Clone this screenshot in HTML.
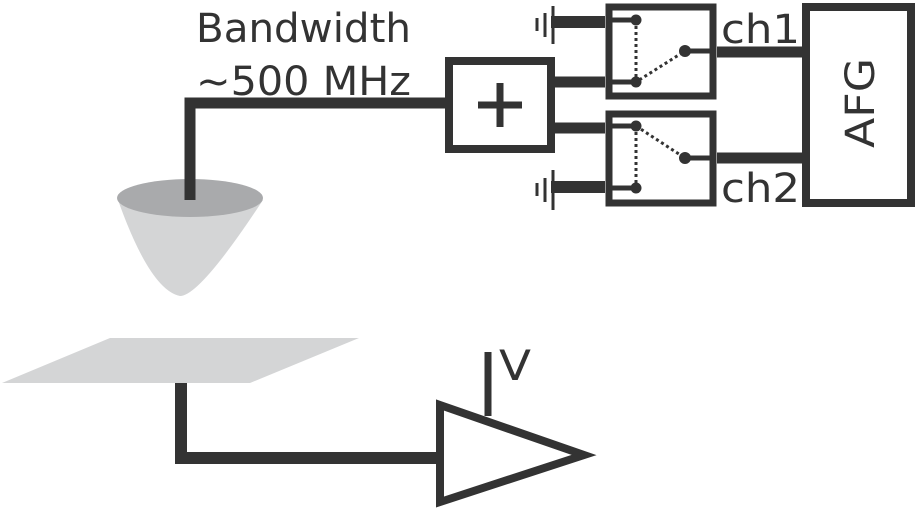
<!DOCTYPE html>
<html><head><style>body{margin:0;background:#fff}svg{display:block}</style></head><body>
<svg width="915" height="510" viewBox="0 0 915 510" xmlns="http://www.w3.org/2000/svg" font-family="DejaVu Sans, Liberation Sans, sans-serif" fill="none" stroke="#333">
<!-- cone -->
<path d="M118,200 Q150,290 180,296 Q200,296 263,200 Z" fill="#d4d5d6" stroke="none"/>
<ellipse cx="190" cy="198" rx="73" ry="19" fill="#a9aaac" stroke="none"/>
<path d="M190,200 V103 H445" stroke-width="11"/>
<!-- plus box -->
<rect x="449" y="61" width="102" height="88" stroke-width="8" fill="#fff"/>
<path d="M500,83 V127 M478,105 H522" stroke-width="7"/>
<path d="M555,82 H605 M555,128 H605" stroke-width="11"/>
<!-- switch boxes -->
<rect x="609" y="7" width="104" height="89" stroke-width="7"/>
<rect x="609" y="114" width="104" height="89" stroke-width="7"/>
<!-- grounds -->
<path d="M551,22 H605 M551,187 H605" stroke-width="12"/>
<path d="M553,6 V44 M545,13 V37 M537,18 V31 M553,170 V210 M545,178 V202 M537,183 V196" stroke-width="3"/>
<!-- switch internals -->
<path d="M612,20 H636 M612,82 H636 M685,51 H713 M612,126 H636 M612,188 H636 M685,158 H713" stroke-width="5"/>
<path d="M636,20 V82 L685,51 M636,126 V188 M636,126 L685,158" stroke-width="3" stroke-dasharray="3,3"/>
<g fill="#333" stroke="none">
<circle cx="636" cy="20" r="5.5"/><circle cx="636" cy="82" r="5.5"/><circle cx="685" cy="51" r="6"/>
<circle cx="636" cy="126" r="5.5"/><circle cx="636" cy="188" r="5.5"/><circle cx="685" cy="158" r="6"/>
</g>
<path d="M717,52 H802 M717,158 H802" stroke-width="11"/>
<rect x="806" y="7" width="105" height="196" stroke-width="8"/>
<!-- plate -->
<polygon points="2,383 110,338 359,338 250,383" fill="#d4d5d6" stroke="none"/>
<path d="M181,383 V458 H440" stroke-width="12"/>
<polygon points="440,405 584,455 440,502" stroke-width="8" fill="#fff"/>
<path d="M488,352 V416" stroke-width="7"/>
<g fill="#333" stroke="none" font-size="40">
<text x="196" y="42" textLength="215" lengthAdjust="spacingAndGlyphs">Bandwidth</text>
<text x="196" y="95" textLength="215" lengthAdjust="spacingAndGlyphs">~500 MHz</text>
<text x="721" y="43" textLength="79" lengthAdjust="spacingAndGlyphs">ch1</text>
<text x="721" y="202" textLength="79" lengthAdjust="spacingAndGlyphs">ch2</text>
<text x="499" y="380" font-size="42" textLength="32" lengthAdjust="spacingAndGlyphs">V</text>
<text transform="translate(874,103) rotate(-90)" text-anchor="middle" font-size="40" textLength="90" lengthAdjust="spacingAndGlyphs">AFG</text>
</g>
</svg>
</body></html>
